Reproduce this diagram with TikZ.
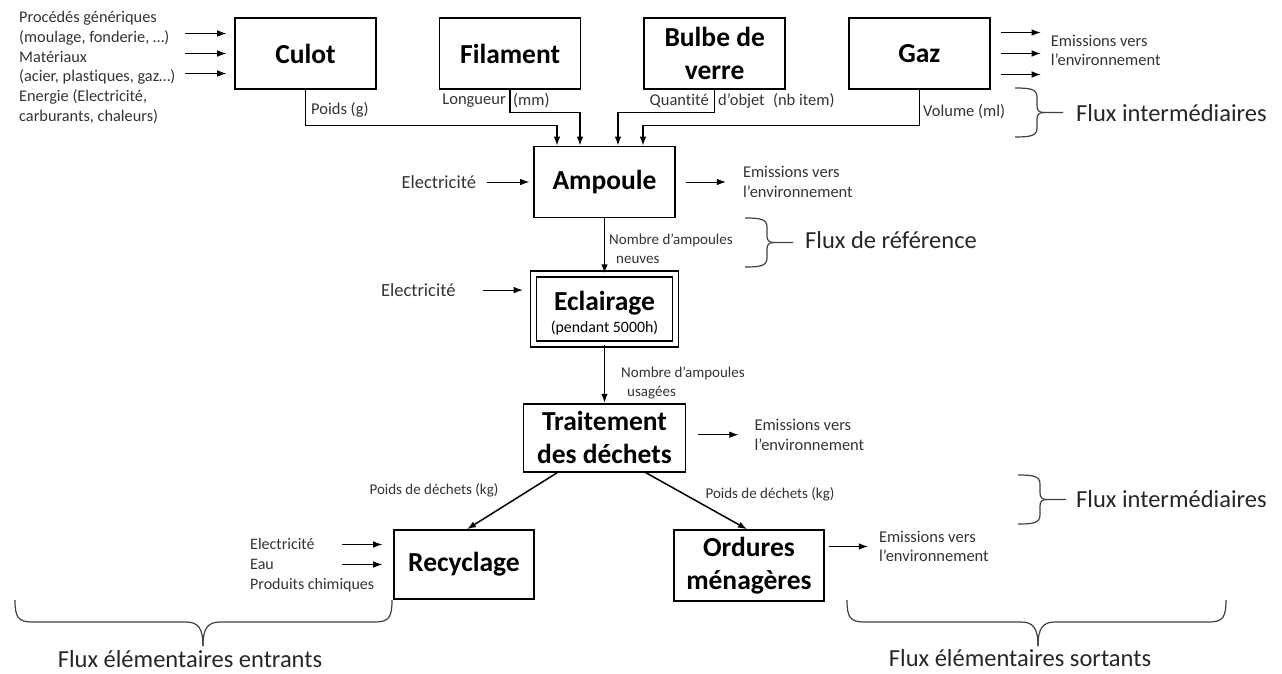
\documentclass[tikz,border=0pt]{standalone}
\usepackage{fontspec}
\setmainfont{Carlito}[Ligatures=NoCommon]
\usetikzlibrary{arrows.meta,positioning}

\tikzset{
	box/.style={draw, line width=1.6pt, inner sep=0pt, align=center,
		minimum width=141pt, minimum height=71pt,
		font=\fontsize{27.5}{33}\selectfont\bfseries},
	lbl/.style={inner sep=0pt, align=left, text=black!80,
		font=\fontsize{16.5}{19.5}\selectfont},
	petit/.style={lbl, font=\fontsize{15}{18.5}\selectfont},
	elec/.style={lbl, font=\fontsize{18.5}{20}\selectfont},
	flux/.style={inner sep=0pt, text=black!85, font=\fontsize{24.5}{29}\selectfont},
	flow/.style={->, line width=1.5pt},
	emis/.style={->, line width=0.8pt},
	brace/.style={line width=1.2pt, black!75},
	pics/fluxbrace/.style={code={
		\draw[brace] (0,0) .. controls (15,0) and (22,1) .. (22,9) -- (22,18)
			.. controls (22,22.5) and (24,24.5) .. (29,24.5) -- (48,24.5);
		\draw[brace] (0,49) .. controls (15,49) and (22,48) .. (22,40) -- (22,31)
			.. controls (22,26.5) and (24,24.5) .. (29,24.5);
	}}
}

\begin{document}
\begin{tikzpicture}[x=1pt, y=-1pt, >={Latex[length=9pt,width=6.5pt]}]
	\useasboundingbox (0,0) rectangle (1282,673);

	% composants
	\node[box] (culot) at (305.5,53.5) {Culot};
	\node[box] (filament) [right=62pt of culot] {Filament};
	\node[box] (bulbe) [right=62pt of filament] {Bulbe de\\verre};
	\node[box] (gaz) [right=62pt of bulbe] {Gaz};

	% chaine principale
	\node[box] (ampoule) at (604.5,182) {Ampoule};
	\node[box, double, double distance=4.4pt, minimum width=142pt, minimum height=70pt]
		(eclairage) [below=55pt of ampoule]
		{\rule{0pt}{27pt}Eclairage\\[-11pt]{\mdseries\fontsize{15.8}{18}\selectfont (pendant 5000h)}};
	\node[box, minimum width=162pt, minimum height=68pt] (traitement)
		[below=58pt of eclairage] {Traitement\\des déchets};
	\node[box, minimum width=140pt, minimum height=69pt] (recyclage) at (464,564.5) {Recyclage};
	\node[box, minimum width=150pt] (ordures) at (749,565.5) {Ordures\\ménagères};

	% flux intermediaires vers l'ampoule
	\coordinate (a1) at ([xshift=-47.5pt]ampoule.north);
	\coordinate (a2) at ([xshift=-24.5pt]ampoule.north);
	\coordinate (a3) at ([xshift=13.5pt]ampoule.north);
	\coordinate (a4) at ([xshift=38.5pt]ampoule.north);
	\draw[flow] (culot.south) |- ([yshift=20pt]a1) -- (a1);
	\draw[flow] (filament.south) |- ([yshift=33pt]a2) -- (a2);
	\draw[flow] (bulbe.south) |- ([yshift=33pt]a3) -- (a3);
	\draw[flow] (gaz.south) |- ([yshift=20pt]a4) -- (a4);

	\node[lbl, anchor=west] (lpoids) at (311,110) {Poids (g)};
	\node[lbl, anchor=east] (llong) at (506,101) {Longueur};
	\node[lbl, anchor=west] (lmm) at (513,101) {(mm)};
	\node[lbl, anchor=east] (lqte) at (709,101) {Quantité};
	\node[lbl, anchor=west] (lobj) at (718,101) {d’objet\enspace(nb item)};
	\node[lbl, anchor=west] (lvol) at (923,112) {Volume (ml)};

	% entrees et sorties du haut
	\node[lbl, font=\fontsize{16.3}{19.8}\selectfont, anchor=west] (entrees) at (19,67.5)
		{Procédés génériques\\(moulage, fonderie, …)\\Matériaux\\(acier, plastiques, gaz…)\\Energie (Electricité,\\carburants, chaleurs)};
	\foreach \dy in {20,0,-20}
		\draw[emis] ([shift={(-49pt,\dy pt)}]culot.west) -- ++(41,0);

	\node[lbl] (emisG) [right=60pt of gaz, yshift=3pt] {Emissions vers\\l’environnement};
	\foreach \dy in {21,0,-21}
		\draw[emis] ([shift={(10pt,\dy pt)}]gaz.east) -- ++(40,0);
	\pic at (1015,88) {fluxbrace};
	\node[flux, anchor=west] (fint1) at (1076,113) {Flux intermédiaires};

	% ampoule
	\node[elec] (elecA) [left=57pt of ampoule] {Electricité};
	\draw[emis, shorten <=11pt, shorten >=4pt] (elecA) -- (ampoule);
	\node[lbl] (emisA) [right=67pt of ampoule] {Emissions vers\\l’environnement};
	\draw[emis, shorten <=10pt, shorten >=17pt] (ampoule) -- (emisA);

	% flux de reference
	\draw[flow] (ampoule) -- (eclairage);
	\node[petit, anchor=west] (lneuves) at (609,249) {Nombre d’ampoules\\\hspace*{7pt}neuves};
	\pic at (745,218) {fluxbrace};
	\node[flux, anchor=west] (fref) at (805,240) {Flux de référence};

	% eclairage
	\node[elec] (elecE) [left=77pt of eclairage, yshift=19pt] {Electricité};
	\draw[emis, shorten <=27pt, shorten >=10pt] (elecE) -- (elecE -| eclairage.west);
	\draw[flow] (eclairage) -- (traitement);
	\node[petit, anchor=west] (lusagees) at (621,383) {Nombre d’ampoules\\\hspace*{6pt}usagées};

	% traitement
	\node[lbl] (emisT) [right=68pt of traitement, yshift=3pt] {Emissions vers\\l’environnement};
	\draw[emis, shorten <=12pt, shorten >=16pt] (traitement.east |- emisT) -- (emisT);
	\draw[flow] ([xshift=-47pt]traitement.south) -- ([xshift=3pt]recyclage.north);
	\draw[flow] ([xshift=41pt]traitement.south) -- ([xshift=-2pt]ordures.north);
	\node[petit] (lpdR) at (434,490) {Poids de déchets (kg)};
	\node[petit] (lpdO) at (770,494) {Poids de déchets (kg)};
	\pic at (1018,475) {fluxbrace};
	\node[flux, anchor=west] (fint2) at (1076,499) {Flux intermédiaires};

	% recyclage et ordures
	\node[lbl, font=\fontsize{16}{20}\selectfont, anchor=west] (entreesR) at (250,565)
		{Electricité\\Eau\\Produits chimiques};
	\foreach \dy in {20,0}
		\draw[emis] ([shift={(-51pt,\dy pt)}]recyclage.west) -- ++(40,0);
	\node[lbl] (emisO) [right=54pt of ordures, yshift=19pt] {Emissions vers\\l’environnement};
	\draw[emis, shorten <=4pt, shorten >=11pt] (ordures.east |- emisO) -- (emisO);

	% flux elementaires
	\draw[brace] (15,600) .. controls (15,617) and (18,622) .. (32,622) -- (186,622)
		.. controls (198,622) and (203,628) .. (203,646);
	\draw[brace] (392,600) .. controls (392,617) and (389,622) .. (375,622) -- (220,622)
		.. controls (208,622) and (203,628) .. (203,646);
	\node[flux] (fentr) at (190,659) {Flux élémentaires entrants};
	\draw[brace] (847,600) .. controls (847,617) and (850,622) .. (864,622) -- (1021,622)
		.. controls (1033,622) and (1038,628) .. (1038,646);
	\draw[brace] (1226,600) .. controls (1226,617) and (1223,622) .. (1209,622) -- (1055,622)
		.. controls (1043,622) and (1038,628) .. (1038,646);
	\node[flux] (fsort) at (1020,658) {Flux élémentaires sortants};
\end{tikzpicture}
\end{document}
